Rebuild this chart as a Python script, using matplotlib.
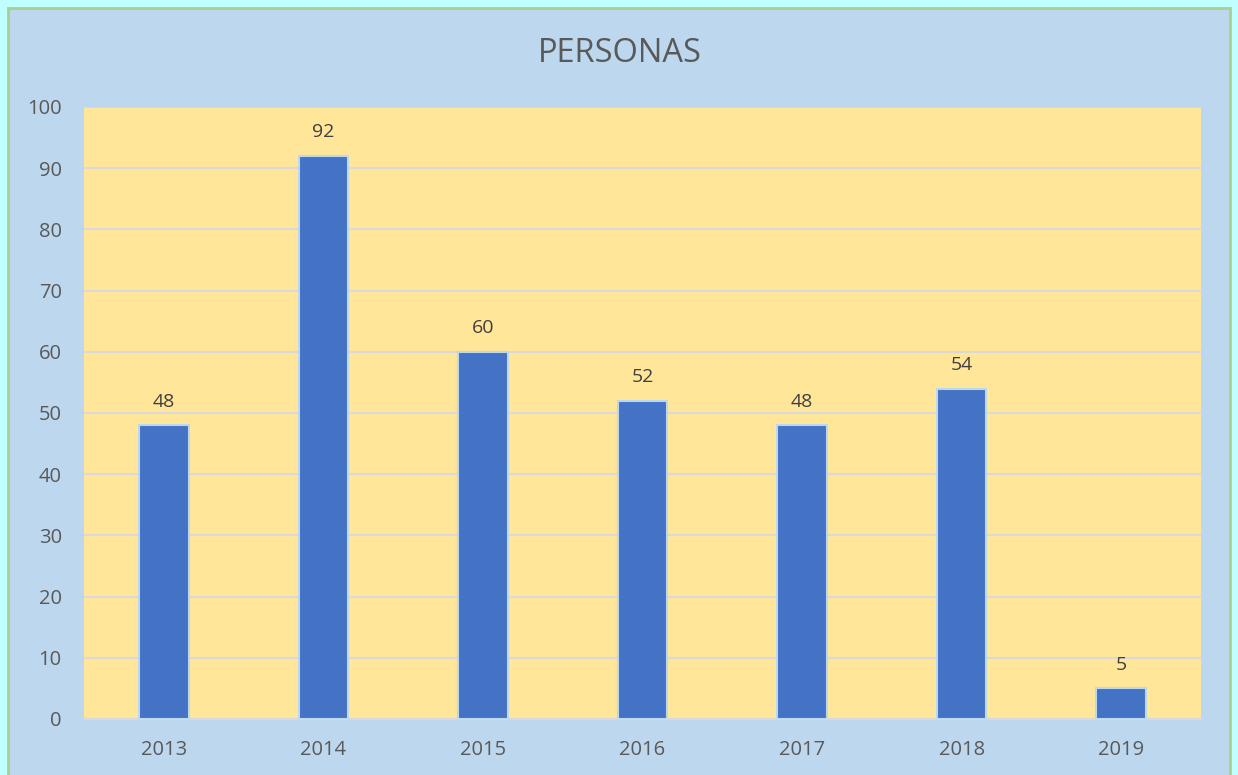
import matplotlib.pyplot as plt
from matplotlib.patches import Rectangle

years = ["2013", "2014", "2015", "2016", "2017", "2018", "2019"]
personas = [48, 92, 60, 52, 48, 54, 5]
yticks = [0, 10, 20, 30, 40, 50, 60, 70, 80, 90, 100]

plt.rcParams['font.family'] = ['Open Sans', 'DejaVu Sans']
txt = "#595959"

fig = plt.figure(figsize=(12.38, 7.75), dpi=100)
fig.patch.set_facecolor("#C0FFFF")
# chart area with green border
fig.patches.append(Rectangle((8/1238, -0.01), 1222/1238, 1 - 8/775 + 0.01,
                             transform=fig.transFigure, facecolor="#BDD7EE",
                             edgecolor="#A9D18E", linewidth=2, zorder=-10))

ax = fig.add_axes([84/1238, 1 - 719/775, (1201 - 84)/1238, (719 - 107)/775])
ax.set_zorder(1)
ax.set_facecolor("#FFE699")
x = range(len(years))
bars = ax.bar(x, personas, width=0.31, color="#4472C4", edgecolor="#BDD7EE",
              linewidth=1.5, zorder=3)
for xi, v in zip(x, personas):
    ax.text(xi, v + 2.4, str(v), ha="center", va="bottom", fontsize=14, color="#404040")

ax.set_xlim(-0.5, len(years) - 0.5)
ax.set_ylim(0, 100)
ax.set_yticks(yticks)
ax.set_xticks(list(x))
ax.set_xticklabels(years)
ax.grid(axis="y", color="#D9D9D9", linewidth=1.5, zorder=0)
ax.set_axisbelow(True)
for s in ["top", "right", "left"]:
    ax.spines[s].set_visible(False)
ax.spines["bottom"].set_color("#D9D9D9")
ax.spines["bottom"].set_linewidth(1.5)
ax.tick_params(length=0, colors=txt, labelsize=14.5)
ax.tick_params(axis="x", pad=15)
ax.tick_params(axis="y", pad=16)
fig.text(620/1238, 1 - 53/775, "PERSONAS", ha="center", va="center", fontsize=23.5, color=txt)

fig.savefig("out.png", dpi=100, facecolor=fig.get_facecolor())
